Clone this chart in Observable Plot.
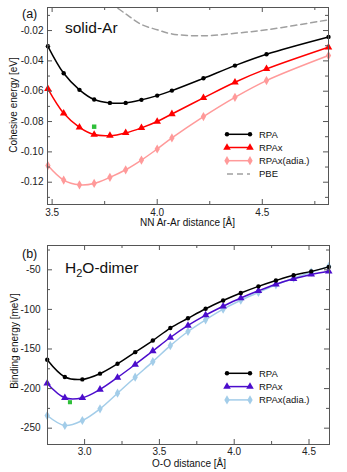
<!DOCTYPE html>
<html>
<head>
<meta charset="utf-8">
<script src="https://cdn.jsdelivr.net/npm/d3@7"></script>
<script src="https://cdn.jsdelivr.net/npm/@observablehq/plot@0.6"></script>
<style>
  html, body { margin: 0; padding: 0; background: white; }
  #wrap { width: 347px; height: 472px; position: relative; }
  #wrap svg { display: block; }
</style>
</head>
<body>
<div id="wrap"></div>
<script>
// ---------- Panel (a): solid-Ar ----------
const distA = [3.48, 3.555, 3.63, 3.70, 3.775, 3.85, 3.925, 4.0, 4.07, 4.22, 4.37, 4.52, 4.815];
const rpaA = [-0.0304, -0.0482, -0.0591, -0.0655, -0.0677, -0.0677, -0.0657, -0.0629, -0.0596, -0.0515, -0.0431, -0.0356, -0.0242];
const rpaxA = [-0.0585, -0.0746, -0.0838, -0.0886, -0.0893, -0.0875, -0.0842, -0.0800, -0.0750, -0.0644, -0.0541, -0.0453, -0.0310];
const adiaA = [-0.109, -0.1186, -0.1217, -0.1208, -0.1168, -0.1118, -0.1054, -0.0981, -0.0908, -0.0767, -0.0640, -0.0530, -0.0365];
const pbeDistA = [3.775, 3.85, 3.925, 4.0, 4.07, 4.22, 4.37, 4.52, 4.815];
const pbeA = [-0.0015, -0.0090, -0.0160, -0.0195, -0.0222, -0.0235, -0.0218, -0.0195, -0.0129];
const refA = [{x: 3.70, y: -0.0834}];
const xTicksA = [3.5, 4.0, 4.5];
const xMinorA = [3.75, 4.25, 4.75];
const yTicksA = [-0.02, -0.04, -0.06, -0.08, -0.10, -0.12];
const yMinorA = [-0.01, -0.03, -0.05, -0.07, -0.09, -0.11, -0.13];

// ---------- Panel (b): H2O-dimer ----------
const distB = [2.75, 2.868, 2.985, 3.103, 3.22, 3.338, 3.456, 3.573, 3.691, 3.809, 3.926, 4.044, 4.162, 4.279, 4.397, 4.515, 4.632];
const rpaB = [-163.6, -185.3, -188.4, -181.1, -168.7, -154, -139.3, -123.5, -111.2, -99.2, -88.8, -79.3, -70.9, -63.5, -56.8, -52, -46.3];
const rpaxB = [-193.5, -211.6, -211.6, -201.1, -186, -169.6, -152.5, -135.5, -120.3, -107.2, -96, -85.6, -76.5, -68.2, -61.4, -55.8, -51.8];
const adiaB = [-234, -246.6, -240.3, -225.5, -205.8, -185.6, -166, -145.8, -127.9, -113.1, -99.7, -88.4, -78.6, -68.9, -60.6, -53, -45.8];
const refB = [{x: 2.902, y: -217.2}];
const xTicksB = [3.0, 3.5, 4.0, 4.5];
const xMinorB = [3.25, 3.75, 4.25];
const yTicksB = [-50, -100, -150, -200, -250];
const yMinorB = [-25, -75, -125, -175, -225];

const FONT = "'Liberation Sans', Arial, Helvetica, sans-serif";
const FRAME = "#555";
const C = {rpa: "#000000", rpaxA: "#ff0000", adiaA: "#ff9a9a", pbe: "#a0a0a0", rpaxB: "#4b0ccc", adiaB: "#a3cde9", ref: "#2fbf3a"};

function ticks(xMaj, xMin, yMaj, yMin, fw, fh) {
  const o = {stroke: FRAME, strokeWidth: 1};
  return [
    Plot.ruleX(xMaj, {x: d => d, insetTop: fh - 5, ...o}),
    Plot.ruleX(xMaj, {x: d => d, insetBottom: fh - 5, ...o}),
    Plot.ruleX(xMin, {x: d => d, insetTop: fh - 3, ...o}),
    Plot.ruleX(xMin, {x: d => d, insetBottom: fh - 3, ...o}),
    Plot.ruleY(yMaj, {y: d => d, insetRight: fw - 5, ...o}),
    Plot.ruleY(yMaj, {y: d => d, insetLeft: fw - 5, ...o}),
    Plot.ruleY(yMin, {y: d => d, insetRight: fw - 3, ...o}),
    Plot.ruleY(yMin, {y: d => d, insetLeft: fw - 3, ...o})
  ];
}

function series(rows, key, color, symbol, r) {
  return [
    Plot.line(rows, {x: "x", y: key, stroke: color, strokeWidth: 1.5, curve: "catmull-rom"}),
    Plot.dot(rows, {x: "x", y: key, fill: color, stroke: "none", symbol, r})
  ];
}

// ---- build chart A ----
const rowsA = distA.map((x, i) => ({x, rpa: rpaA[i], rpax: rpaxA[i], adia: adiaA[i]}));
const rowsPBE = pbeDistA.map((x, i) => ({x, y: pbeA[i]}));
const WA = 347, HA = 232, mlA = 47, mrA = 19, mtA = 7, mbA = 28;
const chartA = Plot.plot({
  width: WA, height: HA, marginLeft: mlA, marginRight: mrA, marginTop: mtA, marginBottom: mbA,
  style: {fontFamily: FONT, fontSize: "10px", color: "#222", background: "white", overflow: "visible"},
  x: {domain: [3.478, 4.815]},
  y: {domain: [-0.1347, -0.0048]},
  marks: [
    Plot.axisX(xTicksA, {tickSize: 0, tickPadding: 4, tickFormat: d => d.toFixed(1), label: null}),
    Plot.axisY(yTicksA, {tickSize: 0, tickPadding: 4, tickFormat: d => d.toFixed(2), label: null}),
    Plot.line(rowsPBE, {x: "x", y: "y", stroke: C.pbe, strokeWidth: 1.5, strokeDasharray: "6,4", curve: "catmull-rom", clip: true}),
    ...series(rowsA, "adia", C.adiaA, "diamond", 2.8),
    ...series(rowsA, "rpax", C.rpaxA, "triangle", 2.8),
    ...series(rowsA, "rpa", C.rpa, "circle", 2.2),
    Plot.dot(refA, {x: "x", y: "y", symbol: "square", fill: C.ref, r: 2.5}),
    ...ticks(xTicksA, xMinorA, yTicksA, yMinorA, WA - mlA - mrA, HA - mtA - mbA),
    Plot.frame({stroke: FRAME, strokeWidth: 1})
  ]
});

// ---- build chart B ----
const rowsB = distB.map((x, i) => ({x, rpa: rpaB[i], rpax: rpaxB[i], adia: adiaB[i]}));
const WB = 347, HB = 240, mlB = 47, mrB = 18, mtB = 13, mbB = 28;
const chartB = Plot.plot({
  width: WB, height: HB, marginLeft: mlB, marginRight: mrB, marginTop: mtB, marginBottom: mbB,
  style: {fontFamily: FONT, fontSize: "10px", color: "#222", background: "white", overflow: "visible"},
  x: {domain: [2.752, 4.637]},
  y: {domain: [-270.6, -19.3]},
  marks: [
    Plot.axisX(xTicksB, {tickSize: 0, tickPadding: 3, tickFormat: d => d.toFixed(1), label: null}),
    Plot.axisY(yTicksB, {tickSize: 0, tickPadding: 7, tickFormat: d => d.toFixed(0), label: null}),
    ...series(rowsB, "adia", C.adiaB, "diamond", 2.8),
    ...series(rowsB, "rpax", C.rpaxB, "triangle", 2.8),
    ...series(rowsB, "rpa", C.rpa, "circle", 2.2),
    Plot.dot(refB, {x: "x", y: "y", symbol: "square", fill: C.ref, r: 2.3}),
    ...ticks(xTicksB, xMinorB, yTicksB, yMinorB, WB - mlB - mrB, HB - mtB - mbB),
    Plot.frame({stroke: FRAME, strokeWidth: 1})
  ]
});

const wrap = document.getElementById("wrap");
wrap.appendChild(chartA);
wrap.appendChild(chartB);

// ---- annotations ----
function annotate(svg, cfg) {
  const s = d3.select(svg);
  const g = s.append("g").attr("font-family", FONT).attr("fill", "#111").attr("text-anchor", "start");
  g.append("text").attr("x", 22).attr("y", cfg.panelY).attr("font-size", 12.5).text(cfg.panel);
  const t = g.append("text").attr("x", 65).attr("y", cfg.titleY).attr("font-size", 15.5);
  cfg.title(t);
  g.append("text").attr("x", cfg.xlabX).attr("y", cfg.xlabY).attr("font-size", 10)
    .attr("text-anchor", "middle").text(cfg.xlab);
  g.append("text").attr("transform", `translate(${cfg.ylabX},${cfg.ylabY}) rotate(-90)`)
    .attr("font-size", 10).attr("text-anchor", "middle").text(cfg.ylab);
  // legend
  const lg = s.append("g").attr("font-family", FONT).attr("text-anchor", "start");
  cfg.legend.forEach((it, i) => {
    const y = cfg.legY + i * cfg.legStep;
    const row = lg.append("g").attr("transform", `translate(0,${y})`);
    row.append("line").attr("x1", 227).attr("x2", 250).attr("y1", 0).attr("y2", 0)
      .attr("stroke", it.color).attr("stroke-width", 1.5)
      .attr("stroke-dasharray", it.dash ? "6,4" : null);
    if (it.symbol) {
      const p = d3.symbol(it.symbol, Math.PI * it.r * it.r)();
      [227, 250].forEach(px => row.append("path").attr("d", p)
        .attr("transform", `translate(${px},0)`).attr("fill", it.color));
    }
    row.append("text").attr("x", 259).attr("y", 0).attr("dy", "0.35em")
      .attr("font-size", 9.5).attr("fill", "#111").text(it.label);
  });
}

annotate(chartA, {
  panel: "(a)", panelY: 17.5,
  titleY: 33, title: t => t.text("solid-Ar"),
  xlab: "NN Ar-Ar distance [Å]", xlabX: 187.5, xlabY: 226,
  ylab: "Cohesive energy [eV]", ylabX: 17, ylabY: 105,
  legY: 134.3, legStep: 13.2,
  legend: [
    {label: "RPA", color: C.rpa, symbol: d3.symbolCircle, r: 2.2},
    {label: "RPAx", color: C.rpaxA, symbol: d3.symbolTriangle, r: 2.8},
    {label: "RPAx(adia.)", color: C.adiaA, symbol: d3.symbolDiamond, r: 2.8},
    {label: "PBE", color: C.pbe, dash: true}
  ]
});

annotate(chartB, {
  panel: "(b)", panelY: 25.5,
  titleY: 40.5, title: t => {
    t.append("tspan").text("H");
    t.append("tspan").attr("font-size", 11).attr("dy", 4).text("2");
    t.append("tspan").attr("dy", -4).text("O-dimer");
  },
  xlab: "O-O distance [Å]", xlabX: 189, xlabY: 235,
  ylab: "Binding energy [meV]", ylabX: 18, ylabY: 109,
  legY: 141.3, legStep: 13.3,
  legend: [
    {label: "RPA", color: C.rpa, symbol: d3.symbolCircle, r: 2.2},
    {label: "RPAx", color: C.rpaxB, symbol: d3.symbolTriangle, r: 2.8},
    {label: "RPAx(adia.)", color: C.adiaB, symbol: d3.symbolDiamond, r: 2.8}
  ]
});
</script>
</body>
</html>
